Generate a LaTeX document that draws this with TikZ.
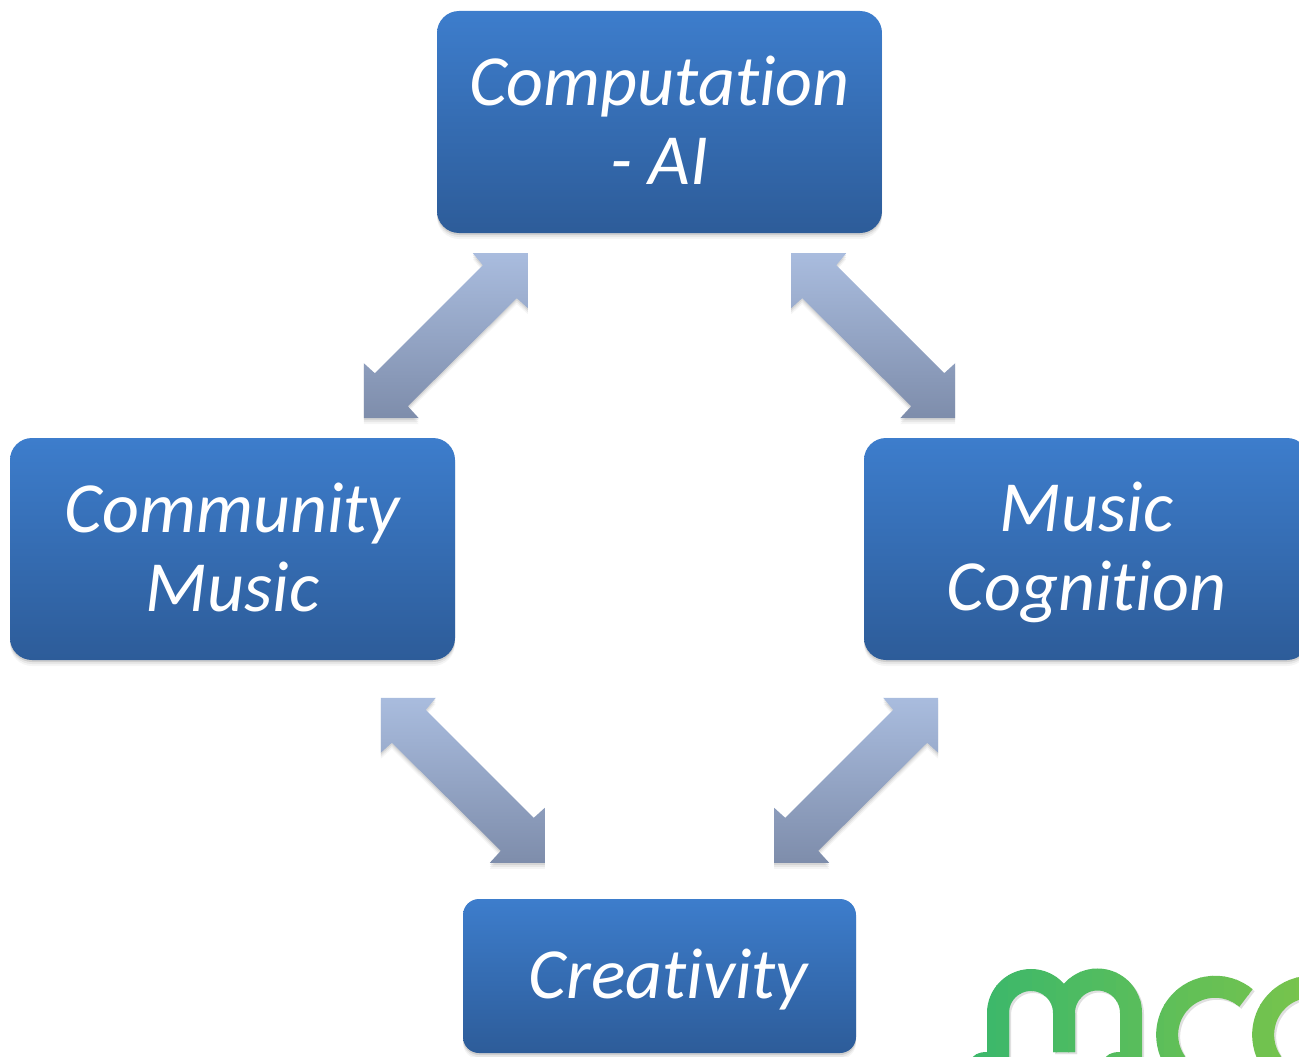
\documentclass[tikz,border=0pt]{standalone}
\usepackage{fontspec}
\setmainfont[RawFeature={-liga;-dlig;-clig}]{Carlito}
\usetikzlibrary{calc,shadows}
\definecolor{boxtop}{HTML}{3D7DCC}
\definecolor{boxbot}{HTML}{2D5C99}
\definecolor{arrtop}{HTML}{A9BCDE}
\definecolor{arrbot}{HTML}{7E8DAB}
\definecolor{logoA}{HTML}{3DB86A}
\definecolor{logoB}{HTML}{7FC548}
\newcommand{\ls}{\rule[-11pt]{0pt}{68pt}}
\tikzset{
  softshadow/.style={
    general shadow={fill=black,opacity=.04,shadow xshift=0pt,shadow yshift=-6pt},
    general shadow={fill=black,opacity=.06,shadow xshift=0pt,shadow yshift=-4pt},
    general shadow={fill=black,opacity=.10,shadow xshift=0pt,shadow yshift=-2pt}},
  bluebox/.style={softshadow,rounded corners=22pt,top color=boxtop,bottom color=boxbot,
    text=white,align=center,inner sep=0pt,
    font=\fontsize{72}{79}\selectfont\itshape},
  arrowfill/.style={top color=arrtop,bottom color=arrbot,draw=none},
  logostroke/.style={line width=22pt,draw=#1,line cap=butt}
}
\newcommand{\arrowpath}{(164,0) -- (109,0) -- (119,12) -- (11,120) -- (0,110) -- (0,165) -- (55,165) -- (44,153) -- (153,45) -- (164,55) -- cycle}
% #1 = shift position, #2 = xscale (1 or -1)
\newcommand{\blockarrow}[2]{%
  \begin{scope}[shift={#1},xscale=#2]
    \fill[black,opacity=.04] [yshift=-6pt] \arrowpath;
    \fill[black,opacity=.06] [yshift=-4pt] \arrowpath;
    \fill[black,opacity=.08] [yshift=-2pt] \arrowpath;
    \shade[arrowfill] \arrowpath;
  \end{scope}}
\newcommand{\logoshape}[1]{%
  \draw[logostroke=#1] (998,1062) -- (998,1013) arc[start angle=180,end angle=360,radius=33]
     (1064,1013) -- (1064,1052);
  \draw[logostroke=#1] (1064,1052) -- (1064,1013) arc[start angle=180,end angle=360,radius=33.5]
     -- (1131,1062);
  \draw[logostroke=#1] (1246,998) arc[start angle=-50,end angle=-215,radius=48];
  \draw[logostroke=#1] (1342,998) arc[start angle=-50,end angle=-215,radius=48];
  \fill[#1] (987,1052) .. controls (978,1052) and (973,1055) .. (971,1060) -- (987,1060) -- cycle;
  \fill[#1] (1120,1052) .. controls (1111,1052) and (1106,1055) .. (1104,1060) -- (1120,1060) -- cycle;
}
\begin{document}
\begin{tikzpicture}[x=1pt,y=-1pt]
\useasboundingbox (0,0) rectangle (1299,1057);
\clip (0,0) rectangle (1299,1057);
\node[bluebox,minimum width=445pt,minimum height=222pt] (comp) at (659.5,122) {\ls Computation\\\ls - AI};
\node[bluebox,minimum width=445pt,minimum height=222pt] (comm) at (232.5,549) {\ls Community\\\ls Music};
\node[bluebox,minimum width=445pt,minimum height=222pt] (cogn) at (1086.5,549) {\ls Music\\\ls Cognition};
\node[bluebox,rounded corners=16pt,minimum width=393pt,minimum height=154pt] (crea) at (659.5,976) {\ls\hspace*{18pt}Creativity};
\blockarrow{($(comp.south west)+(-73,20)$)}{1}
\blockarrow{($(comp.south east)+(73,20)$)}{-1}
\blockarrow{($(crea.north west)+(82,-201)$)}{-1}
\blockarrow{($(crea.north east)+(-82,-201)$)}{1}
% logo
\begin{scope}[shift={(2,2)}]
  \logoshape{black!12}
\end{scope}
\foreach \bx in {960,972,...,1299}{
  \pgfmathsetmacro{\mixv}{min(100,max(0,(\bx-985)/3.5))}
  \colorlet{lgcol}{logoB!\mixv!logoA}
  \begin{scope}
    \clip (\bx,950) rectangle (\bx+13,1057);
    \logoshape{lgcol}
  \end{scope}
}
\end{tikzpicture}
\end{document}
